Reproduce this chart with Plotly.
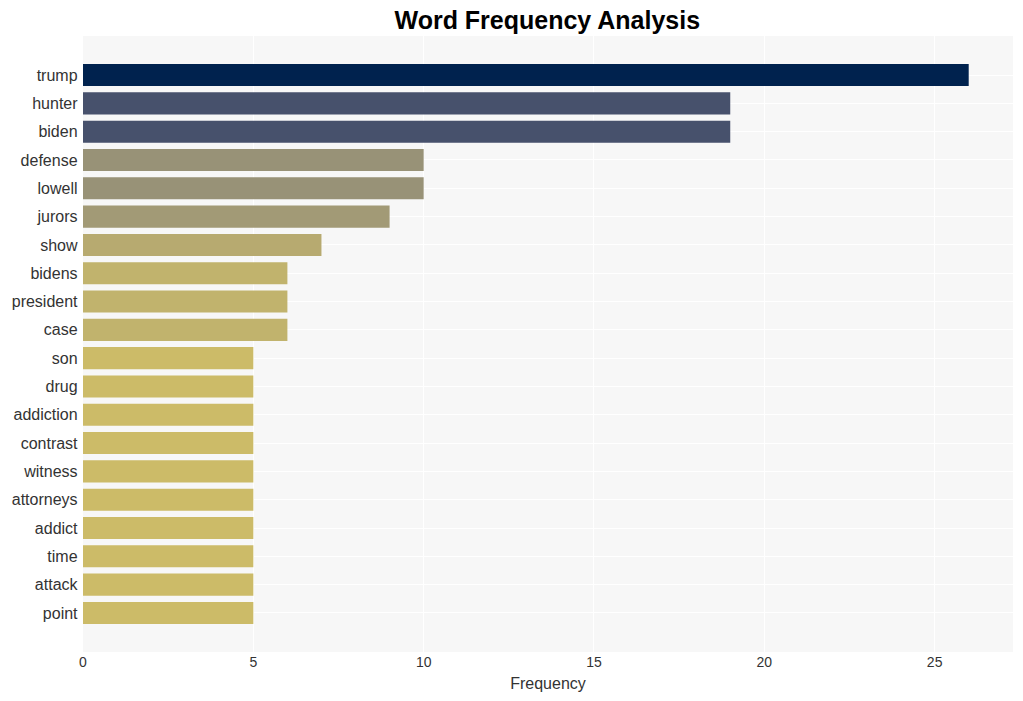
import plotly.graph_objects as go

words = ["trump", "hunter", "biden", "defense", "lowell", "jurors", "show", "bidens",
         "president", "case", "son", "drug", "addiction", "contrast", "witness",
         "attorneys", "addict", "time", "attack", "point"]
freq = [26, 19, 19, 10, 10, 9, 7, 6, 6, 6, 5, 5, 5, 5, 5, 5, 5, 5, 5, 5]

cividis_r = [[0.0, "#00224e"], [0.1, "#123570"], [0.2, "#3b496c"], [0.3, "#575d6d"],
             [0.4, "#707173"], [0.5, "#8a8779"], [0.6, "#a69d75"], [0.7, "#c4b56c"],
             [0.8, "#e4cf5b"], [0.9, "#fde945"], [1.0, "#fee838"]]

fig = go.Figure(go.Bar(
    x=freq, y=words, orientation="h",
    marker=dict(color=freq, colorscale=cividis_r, reversescale=True, cmin=-3, cmax=26,
                line=dict(width=0)),
    width=0.78,
))
fig.update_layout(
    width=1023, height=701,
    margin=dict(l=83, r=10, t=36, b=49),
    title=dict(text="<b>Word Frequency Analysis</b>", x=0.535, xanchor="center", y=0.983, yanchor="top",
               font=dict(family="Arial", size=25, color="black")),
    paper_bgcolor="white", plot_bgcolor="#f7f7f7",
    font=dict(family="Arial", color="#333"),
    xaxis=dict(title=dict(text="Frequency", font=dict(size=16), standoff=8), tickfont=dict(size=14),
               gridcolor="white", zeroline=False, range=[0, 27.3], dtick=5, ticks=""),
    yaxis=dict(range=[20.38, -1.38], tickfont=dict(size=16), gridcolor="white", ticks="", ticksuffix=" "),
    showlegend=False,
)
fig.write_html("out.html")
